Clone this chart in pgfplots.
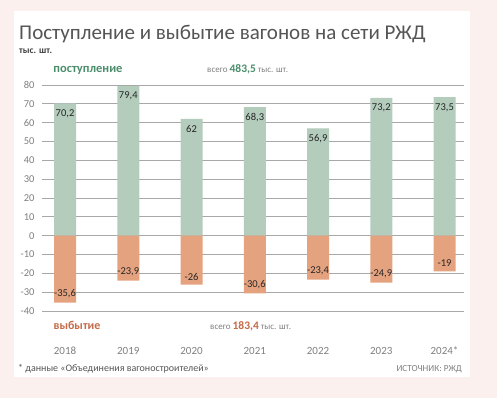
\documentclass[border=0pt]{standalone}
\usepackage{pgfplots}
\pgfplotsset{compat=1.18}
\usepackage{fontspec}
\setmainfont{Carlito}
\definecolor{bgpink}{HTML}{FCF0EE}
\definecolor{bargreen}{HTML}{B3CCBC}
\definecolor{barorange}{HTML}{E5A27E}
\definecolor{txtgreen}{HTML}{4A8E6C}
\definecolor{txtorange}{HTML}{C56B47}
\definecolor{gridgray}{HTML}{A8A8A8}
\definecolor{ticktxt}{HTML}{808080}
\definecolor{titlegray}{HTML}{555555}
\begin{document}
\begin{tikzpicture}[x=1pt,y=1pt]
\fill[bgpink] (0,0) rectangle (497,-398);
\fill[white] (14,-11) rectangle (470,-377);
\node[anchor=base west, inner sep=0, text=titlegray, font=\fontsize{21}{25}\selectfont] at (19,-40) {Поступление и выбытие вагонов на сети РЖД};
\node[anchor=base west, inner sep=0, text=black!75, font=\fontsize{9.5}{11}\selectfont\bfseries] at (19,-54) {тыс. шт.};
\node[anchor=base, inner sep=0, text=txtgreen, font=\fontsize{12.5}{14}\selectfont\bfseries] at (88,-73) {поступление};
\node[anchor=base west, inner sep=0, font=\fontsize{9}{11}\selectfont] at (207,-73) {\textcolor{ticktxt}{всего} {\fontsize{11.5}{13}\selectfont\bfseries\textcolor{txtgreen}{483,5}} \textcolor{ticktxt}{тыс. шт.}};
\node[anchor=base, inner sep=0, text=txtorange, font=\fontsize{12}{14}\selectfont\bfseries] at (77,-329) {выбытие};
\node[anchor=base west, inner sep=0, font=\fontsize{9}{11}\selectfont] at (210,-329) {\textcolor{ticktxt}{всего} {\fontsize{11.5}{13}\selectfont\bfseries\textcolor{txtorange}{183,4}} \textcolor{ticktxt}{тыс. шт.}};
\node[anchor=base west, inner sep=0, text=titlegray, font=\fontsize{10}{12}\selectfont] at (18,-371) {* данные «Объединения вагоностроителей»};
\node[anchor=base east, inner sep=0, text=ticktxt, font=\fontsize{9.2}{11}\selectfont] at (462,-371) {ИСТОЧНИК: РЖД};
\begin{axis}[
  at={(42pt,-311pt)}, anchor=south west,
  scale only axis, width=422pt, height=226pt,
  xmin=-0.364, xmax=6.308, ymin=-40, ymax=80,
  axis line style={draw=none},
  ytick={-40,-30,...,80},
  ymajorgrids, grid style={gridgray, line width=0.9pt},
  major tick length=0pt, tick style={draw=none},
  xtick={0,...,6},
  xticklabels={2018,2019,2020,2021,2022,2023,2024*},
  /pgf/number format/assume math mode=true,
  /pgf/number format/use comma,
  /pgf/number format/1000 sep={},
  yticklabel style={font=\fontsize{10.5}{12}\selectfont, text=ticktxt, anchor=east, xshift=-4pt},
  xticklabel style={font=\fontsize{11}{13}\selectfont, text=ticktxt, anchor=base, yshift=-43pt},
  ybar, bar width=22pt, bar shift=0pt,
  clip=false,
]
\addplot[draw=none, fill=bargreen, nodes near coords,
  every node near coord/.append style={anchor=north, yshift=-2.5pt, font=\fontsize{10.5}{12}\selectfont, text=black!85}]
  coordinates {(0,70.2) (1,79.4) (2,62) (3,68.3) (4,56.9) (5,73.2) (6,73.5)};
\addplot[draw=none, fill=barorange, nodes near coords,
  every node near coord/.append style={anchor=south, yshift=1pt, font=\fontsize{10.5}{12}\selectfont, text=black!85}]
  coordinates {(0,-35.6) (1,-23.9) (2,-26) (3,-30.6) (4,-23.4) (5,-24.9) (6,-19)};
\end{axis}
\end{tikzpicture}
\end{document}
